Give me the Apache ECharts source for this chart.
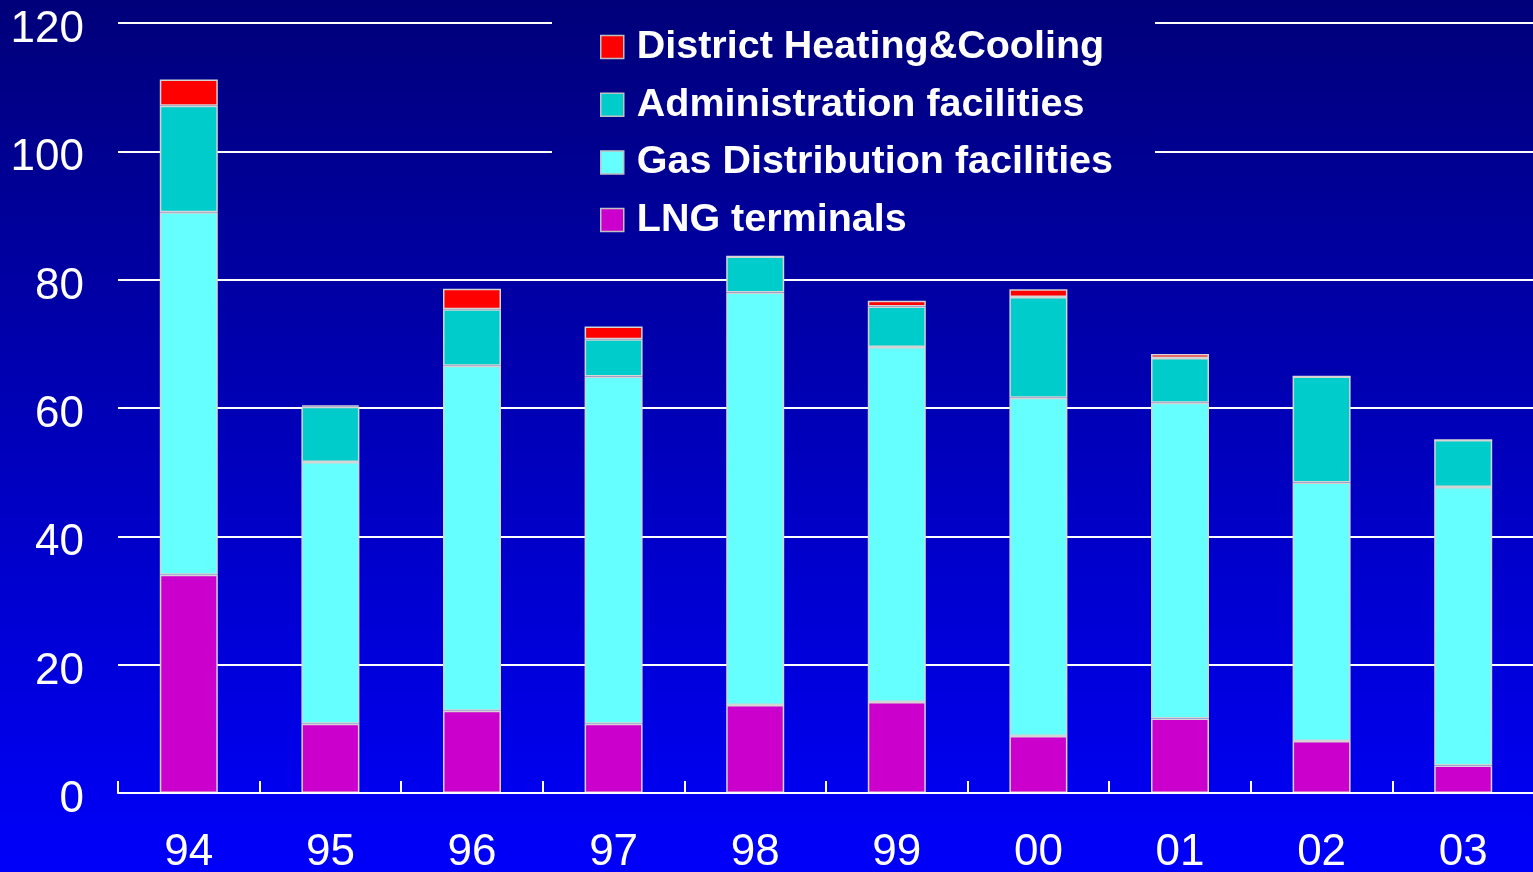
<!DOCTYPE html>
<html>
<head>
<meta charset="utf-8">
<script src="https://cdn.jsdelivr.net/npm/echarts@6/dist/echarts.min.js"></script>
<style>
html,body{margin:0;padding:0;background:#000080;}
#chart{width:1533px;height:872px;}
</style>
</head>
<body>
<div id="chart"></div>
<script>
const categories = ['94','95','96','97','98','99','00','01','02','03'];
const lngTerminals = [34.0, 10.8, 12.8, 10.8, 13.7, 14.2, 8.9, 11.6, 8.1, 4.3];
const gasDistribution = [56.5, 40.8, 53.8, 54.1, 64.3, 55.3, 52.7, 49.2, 40.3, 43.4];
const administration = [16.6, 8.6, 8.8, 5.8, 5.6, 6.3, 15.7, 7.0, 16.5, 7.3];
const districtHeating = [4.1, 0.2, 3.2, 2.0, 0, 0.9, 1.2, 0.6, 0, 0];
const yTicks = [0, 20, 40, 60, 80, 100, 120];

const seriesNames = ['LNG terminals', 'Gas Distribution facilities', 'Administration facilities', 'District Heating&Cooling'];
const seriesColors = ['#cc00cc', '#66ffff', '#00cccc', '#ff0000'];
const seriesData = [lngTerminals, gasDistribution, administration, districtHeating];

const H = 872;
const topColor = [0, 0, 122];
const botColor = [0, 0, 250];
function mix(t) {
  const c = topColor.map((v, i) => Math.round(v + (botColor[i] - v) * t));
  return 'rgb(' + c.join(',') + ')';
}
const bgGradient = {
  type: 'linear', x: 0, y: 0, x2: 0, y2: 1,
  colorStops: [{offset: 0, color: mix(0)}, {offset: 1, color: mix(1)}]
};
const boxH = 240;
const boxGradient = {
  type: 'linear', x: 0, y: 0, x2: 0, y2: 1,
  colorStops: [{offset: 0, color: mix(0)}, {offset: 1, color: mix(boxH / H)}]
};

const chart = echarts.init(document.getElementById('chart'));
chart.setOption({
  backgroundColor: bgGradient,
  animation: false,
  textStyle: {fontFamily: 'Liberation Sans, Arial, sans-serif'},
  grid: {left: 118, right: -1, top: 23, bottom: 79, containLabel: false, outerBoundsMode: 'none'},
  graphic: [{
    type: 'rect', left: 552, top: 0, z: 3,
    shape: {width: 603, height: boxH},
    style: {fill: boxGradient}
  }],
  legend: {
    orient: 'vertical', left: 595, top: 22, z: 5,
    data: ['District Heating&Cooling', 'Administration facilities', 'Gas Distribution facilities', 'LNG terminals'],
    itemWidth: 23, itemHeight: 23, itemGap: 17.7,
    icon: 'rect',
    itemStyle: {borderColor: '#c0c0c0', borderWidth: 1.5},
    textStyle: {color: '#ffffff', fontSize: 39.5, fontWeight: 'bold', lineHeight: 39, padding: [0, 0, 0, 8], fontFamily: 'Liberation Sans, Arial, sans-serif'}
  },
  xAxis: {
    type: 'category', data: categories,
    axisLine: {show: true, lineStyle: {color: '#ffffff', width: 2}},
    axisTick: {show: true, inside: true, length: 12, lineStyle: {color: '#ffffff', width: 2}},
    axisLabel: {color: '#ffffff', fontSize: 44, margin: 38, verticalAlign: 'top'},
    splitLine: {show: false},
    z: 3
  },
  yAxis: {
    type: 'value', min: 0, max: 120, interval: 20,
    axisLine: {show: false}, axisTick: {show: false},
    axisLabel: {color: '#ffffff', fontSize: 44, margin: 34, verticalAlign: 'top', lineHeight: 14,
      formatter: v => yTicks.includes(v) ? String(v) : ''},
    splitLine: {lineStyle: {color: '#ffffff', width: 2}}
  },
  series: seriesNames.map((name, i) => ({
    name, type: 'bar', stack: 'total', barWidth: 58,
    data: seriesData[i],
    itemStyle: {color: seriesColors[i], borderColor: '#d4d4d4', borderWidth: 1.5}
  }))
});
</script>
</body>
</html>
